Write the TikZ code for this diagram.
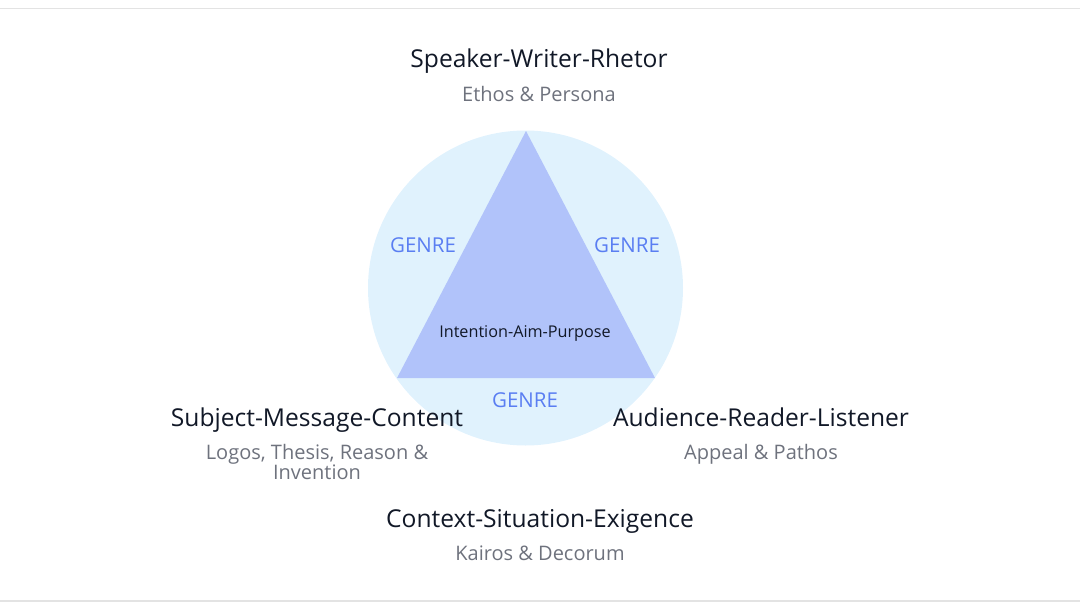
\documentclass[tikz,border=0pt]{standalone}
\usepackage{fontspec}
\setmainfont{Open Sans}
\definecolor{circblue}{HTML}{E0F2FD}
\definecolor{triblue}{HTML}{B1C3FA}
\definecolor{genreblue}{HTML}{5A7EF2}
\definecolor{titleink}{HTML}{111827}
\definecolor{subink}{HTML}{6E727D}
\definecolor{rulegray}{HTML}{E3E3E3}
\begin{document}
\begin{tikzpicture}[x=1pt,y=-1pt,
		title/.style={text=titleink,font=\fontsize{24.6}{28}\selectfont,inner sep=0pt,anchor=base},
		sub/.style={text=subink,font=\fontsize{20}{20}\selectfont,inner sep=0pt,align=center,anchor=base},
		genre/.style={text=genreblue,font=\fontsize{20.5}{22}\selectfont,inner sep=0pt,anchor=base}]
	\useasboundingbox (0,0) rectangle (1080,608);
	\draw[rulegray,line width=1.2pt] (0,8.5) -- (1080,8.5);
	\draw[rulegray,line width=1.2pt] (0,601) -- (1080,601);
	% circle and triangle
	\fill[circblue] (525.5,288) circle (157.5);
	\coordinate (apex) at (526,131);
	\coordinate (left) at (397,378);
	\coordinate (right) at (655,378);
	\fill[triblue] (apex) -- (left) -- (right) -- cycle;
	\node[genre] (genreL) at (423,252) {GENRE};
	\node[genre] (genreR) at (627,252) {GENRE};
	\node[genre] (genreB) at (525,407) {GENRE};
	\node[text=titleink,font=\fontsize{16.2}{18}\selectfont,inner sep=0pt,anchor=base] (purpose) at (525,337) {Intention-Aim-Purpose};
	% corners
	\node[title] (speaker) at (539,67) {Speaker-Writer-Rhetor};
	\node[sub] (ethos) at (539,101) {Ethos \& Persona};
	\node[title] (subject) at (317,426) {Subject-Message-Content};
	\node[sub,anchor=center] (logos) at (317,462) {Logos, Thesis, Reason \&\\Invention};
	\node[title] (audience) at (761,426) {Audience-Reader-Listener};
	\node[sub] (appeal) at (761,459) {Appeal \& Pathos};
	\node[title] (context) at (540,527) {Context-Situation-Exigence};
	\node[sub] (kairos) at (540,560) {Kairos \& Decorum};
\end{tikzpicture}
\end{document}
